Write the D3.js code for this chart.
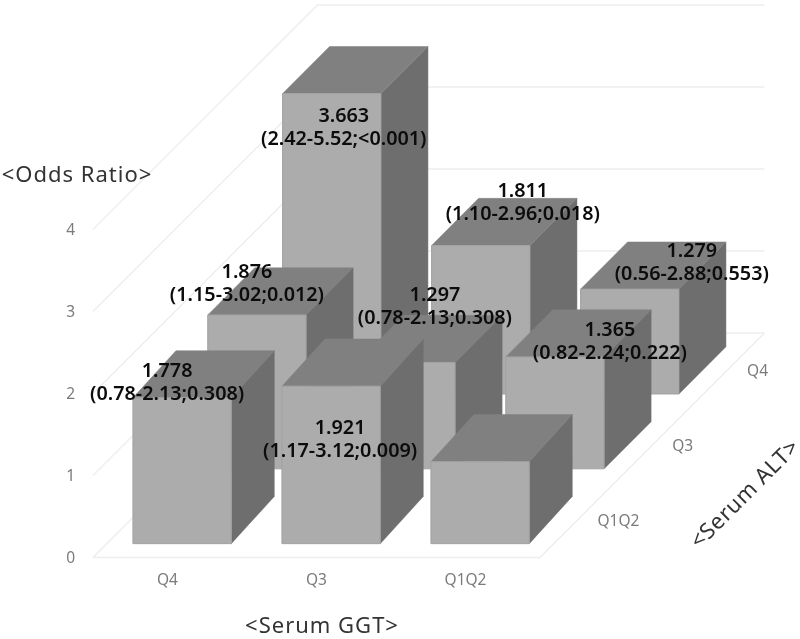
<!DOCTYPE html>
<html><head><meta charset="utf-8">
<script src="https://cdn.jsdelivr.net/npm/d3@7/dist/d3.min.js"></script>
<style>html,body{margin:0;padding:0;background:#fff}svg{display:block;filter:blur(0.35px)}</style>
</head><body><svg id="c" width="800" height="639"></svg>
<script>
// ---- data ----
const ggtCategories = ["Q4", "Q3", "Q1Q2"];
const altCategories = ["Q1Q2", "Q3", "Q4"];
const oddsAltQ1Q2 = [1.778, 1.921, 1];
const oddsAltQ3 = [1.876, 1.297, 1.365];
const oddsAltQ4 = [3.663, 1.811, 1.279];
const ciAltQ1Q2 = ["(0.78-2.13;0.308)", "(1.17-3.12;0.009)", null];
const ciAltQ3 = ["(1.15-3.02;0.012)", "(0.78-2.13;0.308)", "(0.82-2.24;0.222)"];
const ciAltQ4 = ["(2.42-5.52;<0.001)", "(1.10-2.96;0.018)", "(0.56-2.88;0.553)"];
const valueTicks = [0, 1, 2, 3, 4];

// ---- layout (not data) ----
const originX = 93, originY = 557.5, floorW = 447, floorD = 224.5, unit = 82;
const labelShift = {
  "0-0":[-15,0], "0-1":[9,69], "0-2":[0,0],
  "1-0":[-10,-16], "1-1":[29,-40], "1-2":[55,0],
  "2-0":[12,49], "2-1":[42,-27], "2-2":[62,-11]
};
const rearDx = {0:43, 1:47, 2:47};
const svg = d3.select("#c");
const GRID = "#eeeeee", FRONT = "#acacac", TOP = "#808080", SIDE = "#6e6e6e";

const xBand = d3.scaleBand().domain(ggtCategories).range([0, floorW]).paddingInner(0.34).paddingOuter(0.17).align(0.515);
const xStep = d3.scaleBand().domain(ggtCategories).range([0, floorW]);
const depthBand = d3.scaleBand().domain(altCategories).range([0, floorD]).paddingInner(0.37).paddingOuter(0.185);
const depthStep = d3.scaleBand().domain(altCategories).range([0, floorD]);
const y = d3.scaleLinear().domain([0, 4]).range([0, 4 * unit]);
const px = (x, d) => originX + x + d;
const py = (v, d) => originY - d - y(v);
const pts = a => a.map(p => p.join(",")).join(" ");

// ---- walls and floor ----
const grid = svg.append("g").attr("fill", "none").attr("stroke", GRID).attr("stroke-width", 1.4);
valueTicks.forEach(v => {
  grid.append("polyline").attr("points", pts([[px(0,0),py(v,0)],[px(0,floorD),py(v,floorD)],[px(floorW,floorD),py(v,floorD)]]));
});
grid.append("polyline").attr("points", pts([[px(0,0),py(0,0)],[px(floorW,0),py(0,0)],[px(floorW,floorD),py(0,floorD)]]));

// ---- bars, back to front ----
const rows = [
  {alt:"Q4", vals:oddsAltQ4, ci:ciAltQ4, r:2},
  {alt:"Q3", vals:oddsAltQ3, ci:ciAltQ3, r:1},
  {alt:"Q1Q2", vals:oddsAltQ1Q2, ci:ciAltQ1Q2, r:0}
];
const bars = svg.append("g").attr("stroke-linejoin","round");
const labelData = [];
rows.forEach(row => {
  const d0 = depthBand(row.alt), d1 = d0 + depthBand.bandwidth();
  const dx = rearDx[row.r];
  row.vals.forEach((v, i) => {
    const g = ggtCategories[i];
    const x0 = xBand(g), x1 = x0 + xBand.bandwidth();
    const b = bars.append("g");
    const fx0 = px(x0,d0), fx1 = px(x1,d0);
    b.append("polygon").attr("fill", SIDE).attr("stroke", SIDE).attr("stroke-width", .5)
      .attr("points", pts([[fx1,py(0,d0)],[fx1+dx,py(0,d1)],[fx1+dx,py(v,d1)],[fx1,py(v,d0)]]));
    b.append("polygon").attr("fill", TOP).attr("stroke", TOP).attr("stroke-width", .5)
      .attr("points", pts([[fx0,py(v,d0)],[fx1,py(v,d0)],[fx1+dx,py(v,d1)],[fx0+dx,py(v,d1)]]));
    b.append("polygon").attr("fill", FRONT).attr("stroke", "#a2a2a2").attr("stroke-width", 1)
      .attr("points", pts([[fx0,py(0,d0)],[fx1,py(0,d0)],[fx1,py(v,d0)],[fx0,py(v,d0)]]));
    if (row.ci[i]) labelData.push({v, ci:row.ci[i], cx:(fx0+fx1)/2, top:py(v,d0), key:row.r+"-"+i});
  });
});

// ---- axes ----
const tickFont = "Noto Sans, sans-serif", tickColor = "#7b7b7b";
const yAxisScale = d3.scaleLinear().domain([0,4]).range([originY, originY - 4*unit]);
const yAx = svg.append("g").attr("transform","translate(75,0)")
  .call(d3.axisLeft(yAxisScale).tickValues(valueTicks).tickFormat(d3.format("d")).tickSize(0).tickPadding(0));
const xAx = svg.append("g").attr("transform",`translate(${originX},${originY})`)
  .call(d3.axisBottom(xStep).tickSize(0).tickPadding(16));
[yAx,xAx].forEach(a => {
  a.select(".domain").remove();
  a.selectAll("text").attr("fill",tickColor).style("font-family",tickFont).style("font-size","15.5px");
});
svg.append("g").selectAll("text").data(altCategories).join("text")
  .attr("x", d => originX + floorW + depthStep(d) + depthStep.bandwidth()/2 + 20)
  .attr("y", d => originY - depthStep(d) - depthStep.bandwidth()/2 + 6)
  .attr("fill",tickColor).style("font-family",tickFont).style("font-size","15.5px").text(d => d);

// ---- data labels (one text per bar, two lines) ----
const lab = svg.append("g").attr("text-anchor","middle").attr("fill","#0c0c0c")
  .style("font-family",tickFont).style("font-size","19.8px").style("font-weight","600");
labelData.forEach(l => {
  const s = labelShift[l.key];
  const cx = l.cx + s[0], base = l.top + s[1];
  const t = lab.append("text").attr("y", base - 21);
  t.append("tspan").attr("x",cx).text(d3.format(".3f")(l.v));
  t.append("tspan").attr("x",cx).attr("dy",23).text(l.ci);
});

// ---- titles ----
const title = (t,x,yy,rot,ls) => svg.append("text").attr("text-anchor","middle").attr("fill","#333")
  .attr("transform",`translate(${x},${yy}) rotate(${rot||0})`)
  .style("font-family",tickFont).style("font-size","22px").style("letter-spacing",(ls||1)+"px").text(t);
title("<Odds Ratio>",77,182);
title("<Serum GGT>",322,633);
title("<Serum ALT>",750,499,-45,0.7);
</script></body></html>
